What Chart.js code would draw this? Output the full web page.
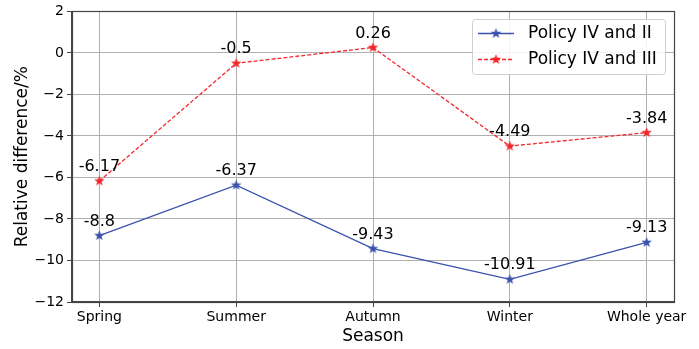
<!DOCTYPE html>
<html>
<head>
<meta charset="utf-8">
<script src="https://cdn.jsdelivr.net/npm/chart.js@4"></script>
<style>
  html, body { margin: 0; padding: 0; background: #fff; }
  #wrap { width: 699px; height: 349px; }
</style>
</head>
<body>
<div id="wrap"><canvas id="myChart" width="699" height="349"></canvas></div>
<script>
const seasons = ["Spring", "Summer", "Autumn", "Winter", "Whole year"];
const policyIVandII = [-8.8, -6.37, -9.43, -10.91, -9.13];
const policyIVandIII = [-6.17, -0.5, 0.26, -4.49, -3.84];
const yTicks = [-12, -10, -8, -6, -4, -2, 0, 2];

const blue = "#3a52ad";
const red = "#f5262b";
const font = "DejaVu Sans";

// filled star marker, like matplotlib '*'
function starImg(color, r) {
  const c = document.createElement("canvas");
  const s = Math.ceil(r * 2 + 2);
  c.width = s; c.height = s;
  const g = c.getContext("2d");
  g.beginPath();
  for (let i = 0; i < 10; i++) {
    const rr = i % 2 === 0 ? r : r * 0.42;
    const a = -Math.PI / 2 + i * Math.PI / 5;
    const px = s / 2 + rr * Math.cos(a);
    const py = s / 2 + rr * Math.sin(a);
    if (i === 0) g.moveTo(px, py); else g.lineTo(px, py);
  }
  g.closePath();
  g.fillStyle = color;
  g.fill();
  return c;
}
const starBlue = starImg(blue, 5.5);
const starRed = starImg(red, 5.5);

function toPoints(arr) {
  return arr.map((v, i) => ({ x: i, y: v }));
}

const labelPlugin = {
  id: "labels",
  afterDatasetsDraw(chart) {
    const ctx = chart.ctx;
    ctx.save();
    ctx.font = "16px '" + font + "'";
    ctx.fillStyle = "#000";
    ctx.textAlign = "center";
    ctx.textBaseline = "alphabetic";
    chart.data.datasets.forEach((ds, di) => {
      const meta = chart.getDatasetMeta(di);
      meta.data.forEach((pt, i) => {
        ctx.fillText(String(ds.data[i].y), pt.x, pt.y - 10);
      });
    });
    ctx.restore();
  }
};

const framePlugin = {
  id: "frame",
  afterDraw(chart) {
    const a = chart.chartArea;
    const ctx = chart.ctx;
    ctx.save();
    ctx.strokeStyle = "#444";
    ctx.lineWidth = 1.2;
    ctx.strokeRect(Math.round(a.left) + 0.5, Math.round(a.top) + 0.5,
      Math.round(a.right - a.left), Math.round(a.bottom - a.top));

    // legend box inside the plot, upper right
    const bx = 472.5, by = 19.5, bw = 193, bh = 55;
    ctx.fillStyle = "rgba(255,255,255,0.85)";
    ctx.strokeStyle = "#d0d0d0";
    ctx.lineWidth = 1;
    ctx.beginPath();
    ctx.roundRect(bx, by, bw, bh, 3);
    ctx.fill();
    ctx.stroke();

    const rows = [
      { text: "Policy IV and II", color: blue, dash: [], img: starBlue, y: 33 },
      { text: "Policy IV and III", color: red, dash: [4, 2], img: starRed, y: 59 }
    ];
    rows.forEach(r => {
      ctx.strokeStyle = r.color;
      ctx.lineWidth = 1.3;
      ctx.setLineDash(r.dash);
      ctx.beginPath();
      ctx.moveTo(478, r.y + 0.5);
      ctx.lineTo(514, r.y + 0.5);
      ctx.stroke();
      ctx.setLineDash([]);
      ctx.drawImage(r.img, 496 - r.img.width / 2, r.y + 0.5 - r.img.height / 2);
      ctx.fillStyle = "#000";
      ctx.font = "17px '" + font + "'";
      ctx.textAlign = "left";
      ctx.textBaseline = "middle";
      ctx.fillText(r.text, 528, r.y + 1);
    });
    ctx.restore();
  }
};

const ctx = document.getElementById("myChart");
new Chart(ctx, {
  type: "line",
  data: {
    datasets: [
      {
        label: "Policy IV and II",
        data: toPoints(policyIVandII),
        borderColor: blue,
        backgroundColor: blue,
        borderWidth: 1.3,
        pointStyle: starBlue,
        tension: 0
      },
      {
        label: "Policy IV and III",
        data: toPoints(policyIVandIII),
        borderColor: red,
        backgroundColor: red,
        borderWidth: 1.3,
        borderDash: [4, 2],
        pointStyle: starRed,
        tension: 0
      }
    ]
  },
  options: {
    responsive: false,
    animation: false,
    layout: { padding: { top: 10, right: 25, left: 0, bottom: 0 } },
    plugins: {
      legend: { display: false },
      tooltip: { enabled: false }
    },
    scales: {
      x: {
        type: "linear",
        min: -0.2,
        max: 4.2,
        afterBuildTicks(scale) {
          scale.ticks = seasons.map((s, i) => ({ value: i }));
        },
        afterFit(scale) { scale.height = 47; },
        ticks: {
          callback: (v) => seasons[v],
          color: "#000",
          font: { family: font, size: 14 },
          padding: 2,
          maxRotation: 0,
          autoSkip: false
        },
        grid: { color: "#b0b0b0", lineWidth: 1, tickLength: 5, tickColor: "#444" },
        border: { color: "#444", width: 1.2 },
        title: {
          display: true,
          text: "Season",
          color: "#000",
          font: { family: font, size: 17 },
          padding: { top: 0, bottom: 2 }
        }
      },
      y: {
        min: -12,
        max: 2,
        afterBuildTicks(scale) {
          scale.ticks = yTicks.map(v => ({ value: v }));
        },
        afterFit(scale) { scale.width = 72; },
        ticks: {
          callback: (v) => String(v).replace("-", "\u2212"),
          color: "#000",
          font: { family: font, size: 14 },
          padding: 3
        },
        grid: { color: "#b0b0b0", lineWidth: 1, tickLength: 5, tickColor: "#444" },
        border: { color: "#444", width: 1.2 },
        title: {
          display: true,
          text: "Relative difference/%",
          color: "#000",
          font: { family: font, size: 17 },
          padding: { top: 12, bottom: 0 }
        }
      }
    }
  },
  plugins: [labelPlugin, framePlugin]
});
</script>
</body>
</html>
